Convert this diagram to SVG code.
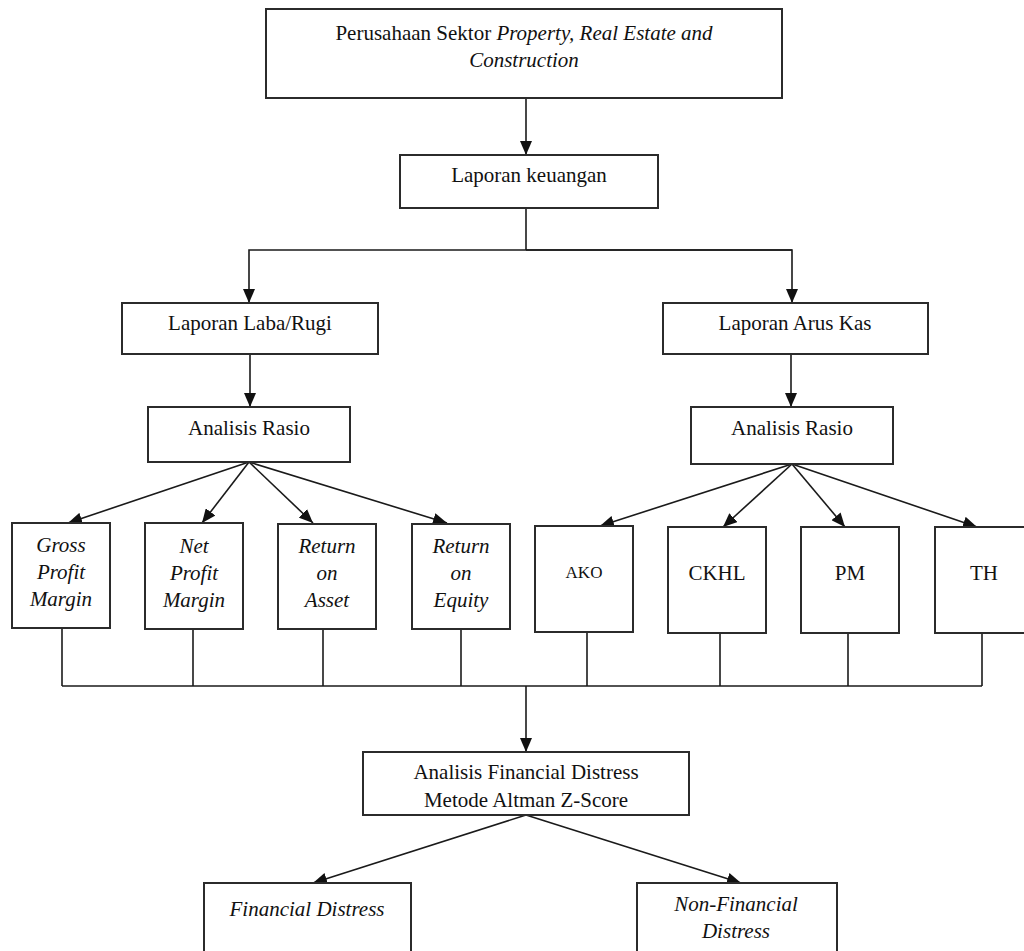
<svg xmlns="http://www.w3.org/2000/svg" width="1024" height="951" viewBox="0 0 1024 951">
<style>
.box{fill:#fff;stroke:#2b2b2b;stroke-width:2}
.t{font-family:"Liberation Serif","Times New Roman",serif;font-size:21px;fill:#111;text-anchor:middle}
.i{font-style:italic}
.ln{fill:none;stroke:#1a1a1a;stroke-width:1.6}
.ar{marker-end:url(#ah)}
</style>
<defs>
<marker id="ah" markerUnits="userSpaceOnUse" markerWidth="14" markerHeight="12" viewBox="0 0 14 12" refX="14" refY="6" orient="auto">
<path d="M0,0 L14,6 L0,12 Z" fill="#111"/>
</marker>
</defs>
<rect width="1024" height="951" fill="#fff"/>
<g id="connectors">
<line class="ln ar" x1="526" y1="98" x2="526" y2="155"/>
<polyline class="ln" points="526,208 526,250"/>
<polyline class="ln ar" points="792,250 249,250 249,303"/>
<polyline class="ln ar" points="526,250 792,250 792,303"/>
<line class="ln ar" x1="250" y1="354" x2="250" y2="407"/>
<line class="ln ar" x1="791" y1="354" x2="791" y2="407"/>
<line class="ln ar" x1="249" y1="462" x2="68" y2="523"/>
<line class="ln ar" x1="249" y1="462" x2="202" y2="523"/>
<line class="ln ar" x1="249" y1="462" x2="313" y2="523"/>
<line class="ln ar" x1="249" y1="462" x2="447" y2="523"/>
<line class="ln ar" x1="792" y1="464" x2="600" y2="526"/>
<line class="ln ar" x1="792" y1="464" x2="723" y2="527"/>
<line class="ln ar" x1="792" y1="464" x2="845" y2="527"/>
<line class="ln ar" x1="792" y1="464" x2="977" y2="527"/>
<line class="ln" x1="62" y1="628" x2="62" y2="686"/>
<line class="ln" x1="193" y1="629" x2="193" y2="686"/>
<line class="ln" x1="323" y1="629" x2="323" y2="686"/>
<line class="ln" x1="461" y1="629" x2="461" y2="686"/>
<line class="ln" x1="587" y1="632" x2="587" y2="686"/>
<line class="ln" x1="720" y1="633" x2="720" y2="686"/>
<line class="ln" x1="848" y1="633" x2="848" y2="686"/>
<line class="ln" x1="982" y1="633" x2="982" y2="686"/>
<line class="ln" x1="62" y1="686" x2="982" y2="686"/>
<line class="ln ar" x1="526" y1="686" x2="526" y2="752"/>
<line class="ln ar" x1="526" y1="815" x2="313" y2="883"/>
<line class="ln ar" x1="526" y1="815" x2="741" y2="883"/>
</g>
<g id="n-perusahaan">
<rect class="box" x="266" y="9" width="516" height="89"/>
<text class="t" x="524" y="40">Perusahaan Sektor <tspan class="i">Property, Real Estate and</tspan></text>
<text class="t i" x="524" y="67">Construction</text>
</g>
<g id="n-laporan-keuangan">
<rect class="box" x="400" y="155" width="258" height="53"/>
<text class="t" x="529" y="182">Laporan keuangan</text>
</g>
<g id="n-laba-rugi">
<rect class="box" x="122" y="303" width="256" height="51"/>
<text class="t" x="250" y="330">Laporan Laba/Rugi</text>
</g>
<g id="n-arus-kas">
<rect class="box" x="663" y="303" width="265" height="51"/>
<text class="t" x="795" y="330">Laporan Arus Kas</text>
</g>
<g id="n-rasio-kiri">
<rect class="box" x="148" y="407" width="202" height="55"/>
<text class="t" x="249" y="435">Analisis Rasio</text>
</g>
<g id="n-rasio-kanan">
<rect class="box" x="691" y="407" width="202" height="57"/>
<text class="t" x="792" y="435">Analisis Rasio</text>
</g>
<g id="n-gpm">
<rect class="box" x="12" y="523" width="98" height="105"/>
<text class="t i" x="61" y="552">Gross</text>
<text class="t i" x="61" y="579">Profit</text>
<text class="t i" x="61" y="606">Margin</text>
</g>
<g id="n-npm">
<rect class="box" x="145" y="523" width="98" height="106"/>
<text class="t i" x="194" y="553">Net</text>
<text class="t i" x="194" y="580">Profit</text>
<text class="t i" x="194" y="607">Margin</text>
</g>
<g id="n-roa">
<rect class="box" x="278" y="524" width="98" height="105"/>
<text class="t i" x="327" y="553">Return</text>
<text class="t i" x="327" y="580">on</text>
<text class="t i" x="327" y="607">Asset</text>
</g>
<g id="n-roe">
<rect class="box" x="412" y="524" width="98" height="105"/>
<text class="t i" x="461" y="553">Return</text>
<text class="t i" x="461" y="580">on</text>
<text class="t i" x="461" y="607">Equity</text>
</g>
<g id="n-ako">
<rect class="box" x="535" y="526" width="98" height="106"/>
<text class="t" x="584" y="578" style="font-size:17px">AKO</text>
</g>
<g id="n-ckhl">
<rect class="box" x="668" y="527" width="98" height="106"/>
<text class="t" x="717" y="580">CKHL</text>
</g>
<g id="n-pm">
<rect class="box" x="801" y="527" width="98" height="106"/>
<text class="t" x="850" y="580">PM</text>
</g>
<g id="n-th">
<rect class="box" x="935" y="527" width="98" height="106"/>
<text class="t" x="984" y="580">TH</text>
</g>
<g id="n-altman">
<rect class="box" x="363" y="752" width="326" height="63"/>
<text class="t" x="526" y="779">Analisis Financial Distress</text>
<text class="t" x="526" y="807">Metode Altman Z-Score</text>
</g>
<g id="n-fd">
<rect class="box" x="204" y="883" width="207" height="80"/>
<text class="t i" x="307" y="916">Financial Distress</text>
</g>
<g id="n-nfd">
<rect class="box" x="637" y="883" width="200" height="80"/>
<text class="t i" x="736" y="911">Non-Financial</text>
<text class="t i" x="736" y="938">Distress</text>
</g>
</svg>
